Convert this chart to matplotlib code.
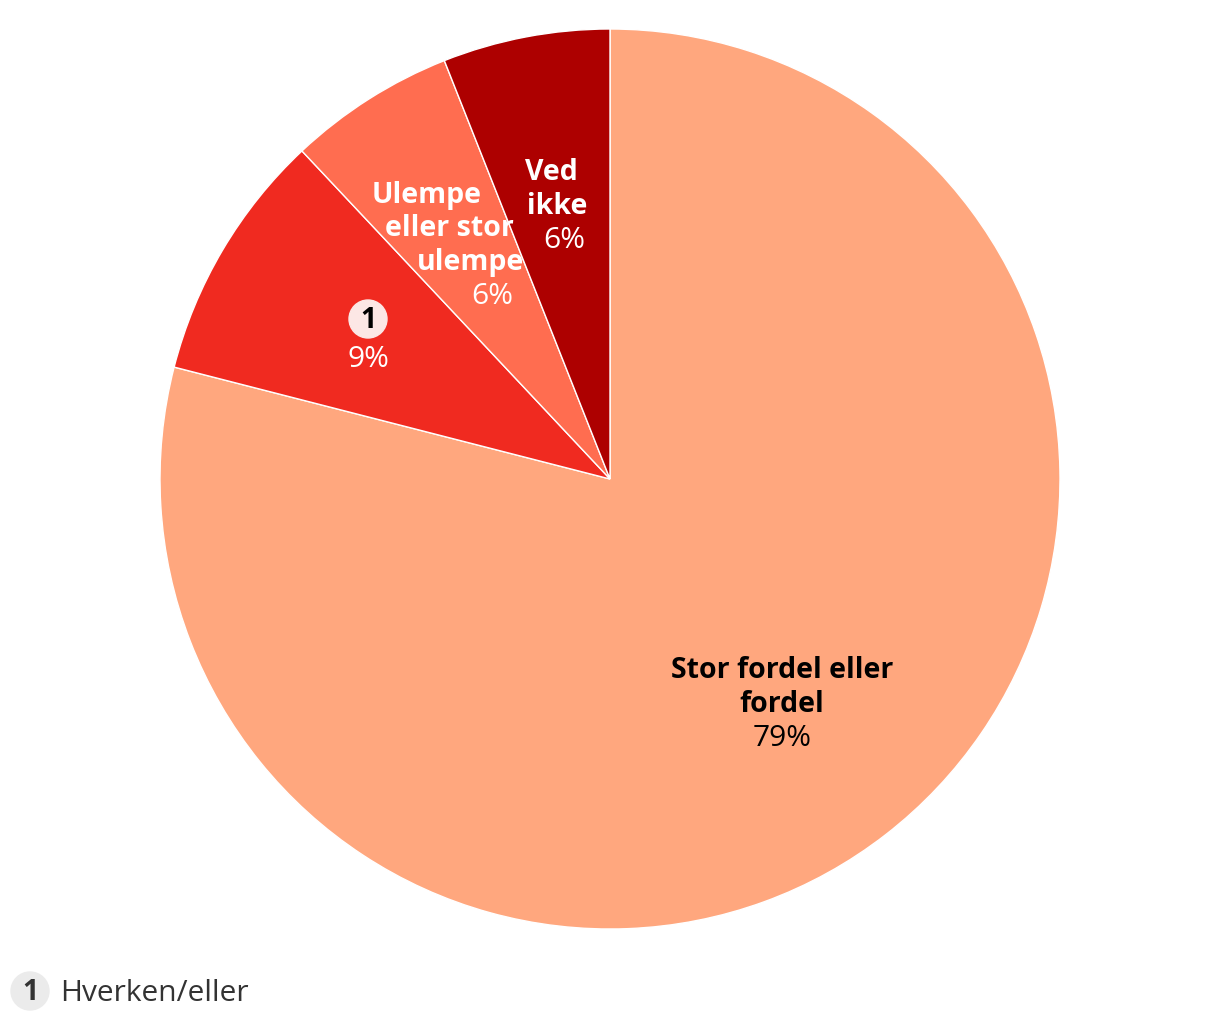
import matplotlib
matplotlib.use("Agg")
import matplotlib.pyplot as plt
from matplotlib.patches import Circle

categories = ["Stor fordel eller fordel", "Hverken/eller", "Ulempe eller stor ulempe", "Ved ikke"]
values = [79, 9, 6, 6]
colors = ["#FFA77E", "#F02A20", "#FF6D50", "#AD0000"]
pct_labels = ["79%", "9%", "6%", "6%"]

W, H = 1220, 1020
fig = plt.figure(figsize=(W / 100, H / 100), dpi=100)
ax = fig.add_axes([0, 0, 1, 1])

cx, cy, r = 610, 480, 450
ax.set_xlim(0, W)
ax.set_ylim(H, 0)
# With inverted y-axis, counterclock=True renders clockwise on screen; start at top (-90 in data space)
ax.pie(values, colors=colors, startangle=-90, counterclock=True, center=(cx, cy), radius=r,
       wedgeprops=dict(edgecolor="white", linewidth=1), frame=True)
ax.set_xlim(0, W)
ax.set_ylim(H, 0)
ax.set_aspect("equal")
ax.axis("off")

FONT = "Open Sans"
BOLD_SZ = 20.5
REG_SZ = 21.5
DY = 2

def txt(x, y, s, color, bold):
    ax.text(x, y + DY, s, ha="center", va="center", color=color,
            fontsize=BOLD_SZ if bold else REG_SZ,
            fontweight="bold" if bold else "normal", family=FONT, zorder=10)

# Stor fordel label
txt(782, 669, "Stor fordel eller", "black", True)
txt(782, 703, "fordel", "black", True)
txt(782, 737, pct_labels[0], "black", False)

# Hverken badge
ax.add_patch(Circle((368, 320), 19, color="#FCE7E5", zorder=5))
txt(368, 319, "1", "black", True)
txt(368, 358, pct_labels[1], "white", False)

# Ulempe label
txt(427, 193, "Ulempe", "white", True)
txt(449, 227, "eller stor", "white", True)
txt(470, 261, "ulempe", "white", True)
txt(492, 295, pct_labels[2], "white", False)

# Ved ikke
txt(551, 171, "Ved", "white", True)
txt(557, 205, "ikke", "white", True)
txt(564, 238, pct_labels[3], "white", False)

# Legend note
ax.add_patch(Circle((30, 992), 19, color="#EBEBEB", zorder=5, clip_on=False))
txt(30, 991, "1", "#333333", True)
ax.text(60, 992 + DY, categories[1], ha="left", va="center", color="#333333", fontsize=REG_SZ,
        family=FONT, zorder=10)

fig.savefig("out.png", dpi=100)
